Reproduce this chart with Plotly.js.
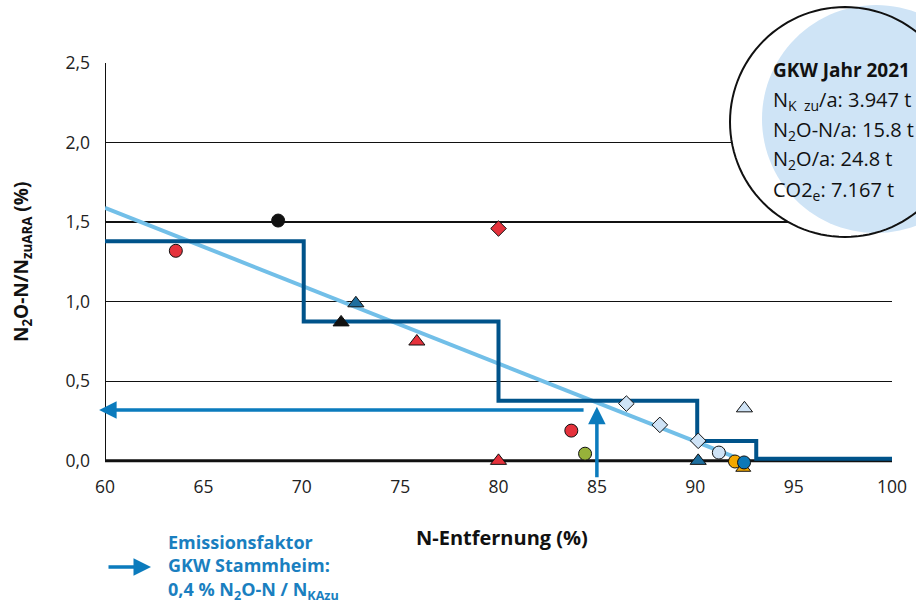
<!DOCTYPE html>
<html>
<head>
<meta charset="utf-8">
<script src="https://cdn.plot.ly/plotly-3.0.1.min.js"></script>
<style>html,body{margin:0;padding:0;background:#fff;}#chart{width:916px;height:603px;}</style>
</head>
<body>
<div id="chart"></div>
<script>
// ---- data ----
const stepX = [60, 70.1, 80, 90.1, 93.1, 100];
const stepY = [1.38, 0.875, 0.377, 0.125, 0.013, 0.013];
const regX = [60, 92.5];
const regY = [1.59, 0.0];

const redCircX = [63.6, 83.7];
const redCircY = [1.32, 0.19];
const blackCircX = [68.8];
const blackCircY = [1.51];
const greenCircX = [84.4];
const greenCircY = [0.045];
const lightCircX = [91.2];
const lightCircY = [0.052];
const orangeCircX = [92.02];
const orangeCircY = [-0.004];
const blueCircX = [92.48];
const blueCircY = [-0.01];

const redDiaX = [80.0];
const redDiaY = [1.46];
const lightDiaX = [86.5, 88.2, 90.15];
const lightDiaY = [0.36, 0.226, 0.126];

const blueTriX = [72.75, 90.15];
const blueTriY = [0.99, 0.0];
const blackTriX = [72.0];
const blackTriY = [0.87];
const redTriX = [75.85, 80.0];
const redTriY = [0.75, 0.0];
const lightTriX = [92.5];
const lightTriY = [0.33];
const orangeTriX = [92.44];
const orangeTriY = [-0.045];

const emissionY = 0.32;   // horizontal arrow level
const removalX = 85;      // vertical arrow position

const xTicks = [60, 65, 70, 75, 80, 85, 90, 95, 100];
const yTicks = [0, 0.5, 1.0, 1.5, 2.0, 2.5];

const infoLines = [
  '<b>GKW Jahr 2021</b>',
  'N<sub>K  zu</sub>/a: 3.947 t',
  'N<sub>2</sub>O-N/a: 15.8 t',
  'N<sub>2</sub>O/a: 24.8 t',
  'CO2<sub>e</sub>: 7.167 t'
];
const legendLines = [
  '<b>Emissionsfaktor</b>',
  '<b>GKW Stammheim:</b>',
  '<b>0,4 % N<sub>2</sub>O-N / N<sub>KAzu</sub></b>'
];

// ---- styling ----
const FONT = 'Open Sans, Noto Sans, sans-serif';
const Y_MIN = -0.07;
const L = 105, R = 892, T = 63, B = 472;
const W = R - L, H = B - T;
const px2x = p => (p - L) / W;
const px2y = p => (B - p) / H;

// decorative bubble outline as a polygon path in paper coordinates
function circlePath(cx, cy, r) {
  let d = '';
  for (let i = 0; i <= 120; i++) {
    const a = i / 120 * 2 * Math.PI;
    const x = px2x(cx + r * Math.cos(a)).toFixed(5);
    const y = px2y(cy + r * Math.sin(a)).toFixed(5);
    d += (i === 0 ? 'M' : 'L') + x + ',' + y + ' ';
  }
  return d + 'Z';
}

function mk(x, y, symbol, color, size) {
  return {
    type: 'scatter', mode: 'markers', x: x, y: y, cliponaxis: false,
    hoverinfo: 'skip', showlegend: false,
    marker: {symbol: symbol, color: color, size: size, line: {color: '#111', width: 1}}
  };
}

const traces = [
  {type: 'scatter', mode: 'lines', x: regX, y: regY, line: {color: '#72bfe8', width: 4}, showlegend: false, hoverinfo: 'skip'},
  {type: 'scatter', mode: 'lines', x: stepX, y: stepY, line: {color: '#00538a', width: 4, shape: 'hv'}, showlegend: false, hoverinfo: 'skip'},
  mk(redCircX, redCircY, 'circle', '#e5323c', 13),
  mk(blackCircX, blackCircY, 'circle', '#111111', 13),
  mk(greenCircX, greenCircY, 'circle', '#97b23a', 13),
  mk(lightCircX, lightCircY, 'circle', '#cfe3f6', 13),
  mk(orangeTriX, orangeTriY, 'triangle-up', '#f4a800', 13),
  mk(orangeCircX, orangeCircY, 'circle', '#f4a800', 13),
  mk(blueCircX, blueCircY, 'circle', '#0b78b8', 13),
  mk(redDiaX, redDiaY, 'diamond', '#e5323c', 12),
  mk(lightDiaX, lightDiaY, 'diamond', '#cfe3f6', 12),
  mk(blueTriX, blueTriY, 'triangle-up', '#1e6e9e', 14),
  mk(blackTriX, blackTriY, 'triangle-up', '#111111', 14),
  mk(redTriX, redTriY, 'triangle-up', '#e5323c', 14),
  mk(lightTriX, lightTriY, 'triangle-up', '#cfe3f6', 14)
];

const ARROW = '#0b7bbd';
const annotations = [
  // horizontal arrow
  {xref: 'x', yref: 'y', axref: 'x', ayref: 'y', x: 59.7, y: emissionY, ax: 84.4, ay: emissionY,
   text: '', showarrow: true, arrowhead: 2, arrowsize: 1, arrowwidth: 3.5, arrowcolor: ARROW, standoff: 0},
  // vertical arrow
  {xref: 'x', yref: 'y', axref: 'x', ayref: 'y', x: removalX, y: 0.34, ax: removalX, ay: -0.113,
   text: '', showarrow: true, arrowhead: 2, arrowsize: 1, arrowwidth: 3.5, arrowcolor: ARROW, standoff: 0},
  // legend arrow
  {xref: 'paper', yref: 'paper', axref: 'pixel', ayref: 'pixel', x: px2x(151), y: px2y(567), ax: -44, ay: 0,
   text: '', showarrow: true, arrowhead: 2, arrowsize: 1, arrowwidth: 3.5, arrowcolor: ARROW, standoff: 0},
  // legend text
  {xref: 'paper', yref: 'paper', x: px2x(166), y: px2y(567), xanchor: 'left', yanchor: 'middle', align: 'left',
   showarrow: false, text: legendLines.join('<br>'), font: {family: FONT, size: 18, color: '#1a7fc0'}},
  // axis titles
  {xref: 'paper', yref: 'paper', x: px2x(502), y: px2y(537), xanchor: 'center', yanchor: 'middle', showarrow: false,
   text: '<b>N-Entfernung (%)</b>', font: {family: FONT, size: 20, color: '#111'}},
  {xref: 'paper', yref: 'paper', x: px2x(22), y: px2y(262), xanchor: 'center', yanchor: 'middle', showarrow: false, textangle: -90,
   text: '<b>N<sub>2</sub>O-N/N<sub>zuARA</sub> (%)</b>', font: {family: FONT, size: 19, color: '#111'}}
];

const infoY = [70, 100, 130, 159, 190];
infoLines.forEach((t, i) => {
  annotations.push({xref: 'paper', yref: 'paper', x: px2x(771), y: px2y(infoY[i]), xanchor: 'left', yanchor: 'middle',
    showarrow: false, text: t, font: {family: FONT, size: i === 0 ? 19 : 20, color: '#111'}});
});

const shapes = [
  // axis frame lines
  {type: 'line', xref: 'x', yref: 'y', layer: 'below', x0: 60, x1: 100, y0: 0, y1: 0, line: {color: '#111', width: 3}},
  {type: 'line', xref: 'x', yref: 'y', layer: 'below', x0: 60, x1: 60, y0: 0, y1: 2.5, line: {color: '#111', width: 2}},
  // info bubble
  {type: 'path', xref: 'paper', yref: 'paper', layer: 'above', path: circlePath(845, 122, 115),
   fillcolor: '#ffffff', line: {width: 0}},
  {type: 'path', xref: 'paper', yref: 'paper', layer: 'above', path: circlePath(876, 119, 114),
   fillcolor: '#cfe4f6', line: {width: 0}},
  {type: 'path', xref: 'paper', yref: 'paper', layer: 'above', path: circlePath(845, 122, 115),
   fillcolor: 'rgba(0,0,0,0)', line: {color: '#111', width: 2}}
];

const layout = {
  width: 916, height: 603,
  margin: {l: L, r: 916 - R, t: T, b: 603 - B, pad: 0},
  paper_bgcolor: '#fff', plot_bgcolor: '#fff',
  showlegend: false,
  xaxis: {
    range: [60, 100], tickvals: xTicks, ticktext: xTicks.map(String),
    showgrid: false, zeroline: false, showline: false,
    ticks: '', ticklabelstandoff: 2,
    tickfont: {family: FONT, size: 17.5, color: '#222'}
  },
  yaxis: {
    range: [Y_MIN, 2.5], tickvals: yTicks, ticktext: yTicks.map(v => v.toFixed(1).replace('.', ',')),
    showgrid: true, gridcolor: '#111', gridwidth: 1.3, zeroline: false, showline: false,
    ticks: '', ticklabelstandoff: 14,
    tickfont: {family: FONT, size: 17.5, color: '#222'}
  },
  annotations: annotations,
  shapes: shapes
};

Plotly.newPlot('chart', traces, layout, {displayModeBar: false, staticPlot: true});
</script>
</body>
</html>
